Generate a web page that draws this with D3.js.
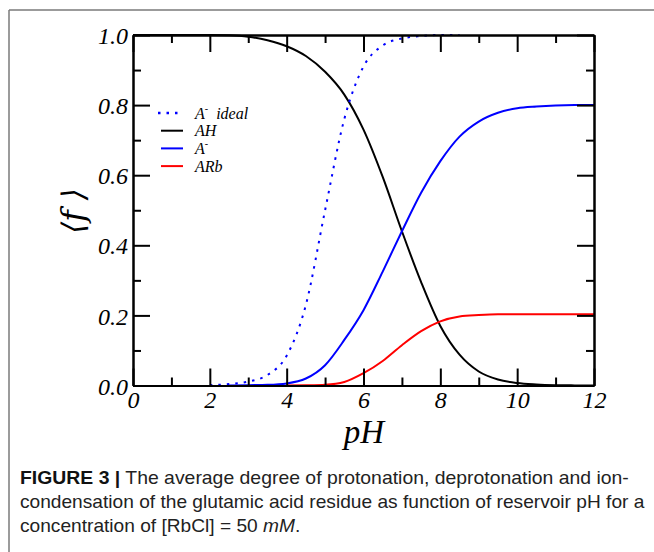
<!DOCTYPE html>
<html>
<head>
<meta charset="utf-8">
<script src="https://d3js.org/d3.v7.min.js"></script>
<style>
  body { margin: 0; background: #fff; }
  .curve { fill: none; stroke-width: 2; }
  .axis path, .axis line { stroke: #000; stroke-width: 2; }
  .axis text { font-family: "Liberation Serif", "DejaVu Serif", serif; font-style: italic; font-size: 24px; fill: #000; }
  .caption { font-family: "Liberation Sans", Arial, sans-serif; font-size: 17.5px; fill: #222; }
</style>
</head>
<body>
<svg width="654" height="552"></svg>
<script>
// pH grid, one point every 0.5 unit
var ph = [0, 0.5, 1, 1.5, 2, 2.5, 3, 3.5, 4, 4.5, 5, 5.5, 6, 6.5, 7, 7.5, 8, 8.5, 9, 9.5, 10, 10.5, 11, 11.5, 12];

// values (null = curve not drawn there)
var idealA = [null, null, null, null, 0.001, 0.004, 0.011, 0.03, 0.085, 0.23, 0.5, 0.76, 0.91, 0.97, 0.99, 0.997, 1.0, 1.0, null, null, null, null, null, null, null];
var ahValues = [1, 1, 1, 1, 1, 0.999, 0.995, 0.985, 0.968, 0.94, 0.895, 0.83, 0.73, 0.595, 0.44, 0.295, 0.17, 0.088, 0.04, 0.017, 0.007, 0.003, 0.001, 0.0003, 0];
var aMinus = [null, null, null, null, null, 0, 0.001, 0.002, 0.006, 0.02, 0.058, 0.13, 0.215, 0.325, 0.44, 0.55, 0.64, 0.71, 0.753, 0.778, 0.791, 0.796, 0.799, 0.8, 0.8];
var arbValues = [null, null, null, null, null, null, null, null, 0, 0.0005, 0.002, 0.01, 0.035, 0.07, 0.115, 0.155, 0.183, 0.197, 0.201, 0.203, 0.203, 0.203, 0.203, 0.203, 0.203];

var xTicks = [0, 2, 4, 6, 8, 10, 12];
var xMinor = [1, 3, 5, 7, 9, 11];
var yTicks = [0, 0.2, 0.4, 0.6, 0.8, 1.0];
var yMinor = [0.1, 0.3, 0.5, 0.7, 0.9];

var legendNames = ["A", "AH", "A", "ARb"];
var legendSup = ["-", "", "-", ""];
var legendSuffix = [" ideal", "", "", ""];

var captionBold = "FIGURE 3 |";
var captionLines = [
  " The average degree of protonation, deprotonation and ion-",
  "condensation of the glutamic acid residue as function of reservoir pH for a",
  "concentration of [RbCl] = 50 "
];

var svg = d3.select("svg");

// frame around the figure panel
svg.append("line").attr("x1", 9).attr("y1", 10).attr("x2", 654).attr("y2", 10)
  .attr("stroke", "#7a7a7a").attr("stroke-width", 1.5);
svg.append("line").attr("x1", 9).attr("y1", 10).attr("x2", 9).attr("y2", 552)
  .attr("stroke", "#7a7a7a").attr("stroke-width", 1.5);

var x = d3.scaleLinear().domain([0, 12]).range([133, 594]);
var y = d3.scaleLinear().domain([0, 1]).range([385.5, 35]);

function series(vals) {
  return ph.map(function(p, i) { return {p: p, v: vals[i]}; });
}
var line = d3.line()
  .defined(function(d) { return d.v !== null; })
  .x(function(d) { return x(d.p); })
  .y(function(d) { return y(d.v); })
  .curve(d3.curveMonotoneX);

var curves = [
  {vals: ahValues, color: "#000", dash: null},
  {vals: arbValues, color: "#ff0000", dash: null},
  {vals: aMinus, color: "#0000ff", dash: null},
  {vals: idealA, color: "#0000ff", dash: "2.5,6"}
];
curves.forEach(function(c) {
  svg.append("path")
    .attr("class", "curve")
    .attr("d", line(series(c.vals)))
    .attr("stroke", c.color)
    .attr("stroke-width", c.dash ? 2.5 : 2)
    .attr("stroke-dasharray", c.dash);
});

// axes, ticks inward on all four sides
var H = 385.5, T = 35, L = 133, R = 594;
function addAxis(gen, tx, ty, labels) {
  var g = svg.append("g").attr("class", "axis")
    .attr("transform", "translate(" + tx + "," + ty + ")")
    .call(gen);
  if (!labels) g.selectAll("text").remove();
  return g;
}
var bx = addAxis(d3.axisBottom(x).tickValues(xTicks).tickSize(-17).tickSizeOuter(0).tickFormat(d3.format("d")), 0, H, true);
bx.selectAll("text").attr("y", 22.5).attr("dy", null);
addAxis(d3.axisBottom(x).tickValues(xMinor).tickSize(-8).tickSizeOuter(0), 0, H, false);
addAxis(d3.axisTop(x).tickValues(xTicks).tickSize(-17).tickSizeOuter(0), 0, T, false);
addAxis(d3.axisTop(x).tickValues(xMinor).tickSize(-8).tickSizeOuter(0), 0, T, false);

var ly = addAxis(d3.axisLeft(y).tickValues(yTicks).tickSize(-17).tickSizeOuter(0).tickFormat(d3.format(".1f")), L, 0, true);
ly.selectAll("text").attr("x", -5).attr("dy", "0.36em");
addAxis(d3.axisLeft(y).tickValues(yMinor).tickSize(-8).tickSizeOuter(0), L, 0, false);
addAxis(d3.axisRight(y).tickValues(yTicks).tickSize(-17).tickSizeOuter(0), R, 0, false);
addAxis(d3.axisRight(y).tickValues(yMinor).tickSize(-8).tickSizeOuter(0), R, 0, false);

// axis titles
svg.append("text")
  .attr("x", 364).attr("y", 443)
  .attr("text-anchor", "middle")
  .style("font-family", "'Liberation Serif', serif")
  .style("font-style", "italic").style("font-size", "33px")
  .text("pH");
svg.append("text")
  .attr("transform", "translate(84,211) rotate(-90)")
  .attr("text-anchor", "middle")
  .style("font-family", "'DejaVu Serif', serif")
  .style("font-style", "italic").style("font-size", "31px")
  .text("\u27E8f \u27E9");

// legend
var legColors = ["#0000ff", "#000", "#0000ff", "#ff0000"];
var legDash = ["2.5,6", null, null, null];
legendNames.forEach(function(name, i) {
  var ry = 113 + i * 17.7;
  svg.append("line")
    .attr("x1", legDash[i] ? 158 : 161).attr("x2", 183)
    .attr("y1", ry).attr("y2", ry)
    .attr("stroke", legColors[i])
    .attr("stroke-width", legDash[i] ? 2.5 : 2)
    .attr("stroke-dasharray", legDash[i]);
  var t = svg.append("text")
    .attr("x", 195).attr("y", ry + 5.5)
    .style("font-family", "'Liberation Serif', serif")
    .style("font-style", "italic").style("font-size", "16px");
  t.append("tspan").text(name);
  if (legendSup[i]) {
    t.append("tspan").attr("dy", -7).style("font-size", "10px").text(legendSup[i]);
    if (legendSuffix[i]) t.append("tspan").attr("dy", 7).text("\u00A0" + legendSuffix[i]);
  }
});

// caption, squeezed horizontally to the narrow journal font
var capY = [484, 508, 532];
var capScale = 1;
[1, 0, 2].forEach(function(i) {
  var t = svg.append("text").attr("class", "caption")
    .attr("x", 20).attr("y", capY[i]);
  if (i == 0) t.append("tspan").style("font-weight", "bold").style("fill", "#111").text(captionBold);
  t.append("tspan").text(captionLines[i]);
  if (i == 2) {
    t.append("tspan").style("font-style", "italic").text("mM");
    t.append("tspan").text(".");
  }
  var len = t.node().getComputedTextLength();
  if (i == 1) capScale = 625 / len;
  var s = i == 0 ? 609 / len : capScale;
  t.attr("transform", "translate(20,0) scale(" + s + ",1) translate(-20,0)");
});
</script>
</body>
</html>
